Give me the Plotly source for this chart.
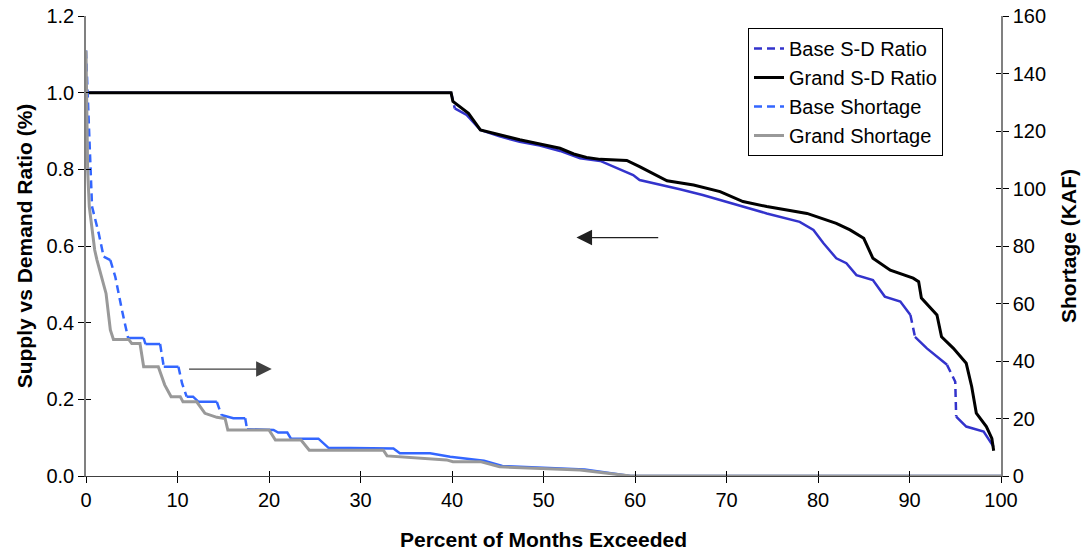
import plotly.graph_objects as go

# ---------------- data ----------------
# Supply vs demand ratio duration curves (left axis)
base_ratio_x = [0, 39.9, 40.3, 41.6, 43.1, 45.2, 47.4, 49.6, 51.8, 54.0, 56.2, 57.6, 58.7,
                59.8, 60.5, 62.0, 64.9, 67.4, 69.3, 74.4, 78.0, 79.5, 80.6, 82.0, 83.1,
                84.2, 86.0, 87.3, 89.0, 90.1, 90.6, 91.9, 94.1, 95.0, 95.1, 96.2, 98.1, 99.2]
base_ratio_y = [1.0, 1.0, 0.959, 0.942, 0.903, 0.886, 0.872, 0.862, 0.848, 0.829, 0.822, 0.808, 0.798,
                0.785, 0.772, 0.764, 0.748, 0.733, 0.72, 0.685, 0.663, 0.642, 0.607, 0.568, 0.555,
                0.524, 0.511, 0.468, 0.455, 0.42, 0.363, 0.333, 0.29, 0.246, 0.155, 0.129, 0.116, 0.076]

grand_ratio_x = [0, 39.9, 40.1, 41.8, 43.1, 45.2, 47.4, 49.6, 51.8, 53.3, 54.7, 56.2, 59.1,
                 60.5, 62.0, 63.5, 66.4, 69.3, 71.8, 74.4, 78.8, 82.0, 83.5, 85.0, 86.0,
                 87.9, 90.4, 91.0, 91.3, 93.0, 93.5, 94.8, 96.2, 96.8, 97.3, 98.4, 99.0, 99.2]
grand_ratio_y = [1.0, 1.0, 0.977, 0.946, 0.903, 0.89, 0.877, 0.866, 0.855, 0.84, 0.831, 0.826, 0.823,
                 0.807, 0.788, 0.77, 0.759, 0.742, 0.716, 0.703, 0.685, 0.659, 0.642, 0.62, 0.568,
                 0.537, 0.516, 0.507, 0.464, 0.42, 0.363, 0.333, 0.294, 0.233, 0.164, 0.129, 0.098, 0.066]

# Shortage duration curves, KAF (right axis)
base_short_x = [0, 0.47, 0.66, 1.39, 1.93, 2.66, 3.2, 3.93, 4.6, 6.3, 6.5, 8.1, 8.5, 10.1, 10.5,
                11.0, 11.7, 12.3, 14.3, 14.8, 16.1, 17.4, 17.6, 20.5, 21.0, 22.0, 22.4, 25.4,
                26.5, 33.6, 34.3, 37.6, 39.8, 43.5, 45.5, 54.5, 59.5, 100]
base_short_y = [148, 106.4, 93.7, 84.4, 76.3, 75.1, 69.3, 57.7, 48.0, 48.0, 45.9, 45.9, 38.0, 38.0, 32.2,
                27.6, 27.6, 25.8, 25.8, 21.2, 20.1, 20.1, 16.3, 16.0, 15.1, 15.1, 13.0, 13.0,
                9.8, 9.6, 7.9, 7.9, 6.7, 5.3, 3.5, 2.3, 0, 0]

grand_short_x = [0, 0.18, 0.36, 0.95, 1.2, 1.67, 2.19, 2.66, 3.0, 4.66, 5.0, 5.9, 6.3, 7.9, 8.6,
                 9.3, 10.3, 10.6, 12.1, 13.0, 14.3, 15.2, 15.5, 20.0, 20.7, 23.5, 24.4, 32.5,
                 32.9, 39.4, 40.1, 43.1, 45.2, 54.0, 59.5, 100]
grand_short_y = [148, 106.4, 93.7, 78.6, 75.1, 69.3, 63.5, 50.8, 47.5, 47.5, 46.1, 46.1, 38.0, 38.0, 31.7,
                 27.6, 27.6, 25.8, 25.8, 21.8, 20.4, 20.0, 16.0, 16.0, 12.5, 12.5, 9.0, 9.0,
                 7.0, 5.6, 5.0, 5.0, 3.2, 2.1, 0, 0]

x_ticks = list(range(0, 101, 10))
ratio_ticks = [0.0, 0.2, 0.4, 0.6, 0.8, 1.0, 1.2]
short_ticks = list(range(0, 161, 20))

# ---------------- layout geometry ----------------
W, H = 1086, 554
ML, MR, MT, MB = 86, 85, 16, 78
PW, PH = W - ML - MR, H - MT - MB
X_RANGE = [0, 100]
RATIO_RANGE = [0, 1.2]
SHORT_RANGE = [0, 160]

FONT = "Arial, Liberation Sans, sans-serif"
FS = 20
FS_TITLE = 21


def split_by_slope(xs, ys, yspan):
    """Split a curve into gentle runs (drawn solid) and steep runs (drawn dashed),
    the way a dashed line over dense monthly points shows dashes only on big jumps."""
    kx = PW / (X_RANGE[1] - X_RANGE[0])
    ky = PH / yspan
    runs = {True: ([], []), False: ([], [])}
    last = {True: None, False: None}
    for i in range(len(xs) - 1):
        x0, y0, x1, y1 = xs[i], ys[i], xs[i + 1], ys[i + 1]
        steep = abs((y1 - y0) * ky) > 2.0 * abs((x1 - x0) * kx)
        rx, ry = runs[steep]
        if last[steep] != i:
            if rx:
                rx.append(None)
                ry.append(None)
            rx.append(x0)
            ry.append(y0)
        rx.append(x1)
        ry.append(y1)
        last[steep] = i + 1
    return runs[False], runs[True]


fig = go.Figure()

DASH = "8px,5px"

# Base S-D ratio
(bs_x, bs_y), (bd_x, bd_y) = split_by_slope(base_ratio_x, base_ratio_y, RATIO_RANGE[1] - RATIO_RANGE[0])
fig.add_trace(go.Scatter(x=bs_x, y=bs_y, mode="lines", connectgaps=False, showlegend=False,
                         legendgroup="a", line=dict(color="#3333CC", width=2.5)))
fig.add_trace(go.Scatter(x=bd_x, y=bd_y, mode="lines", connectgaps=False, name="Base S-D Ratio",
                         legendgroup="a", line=dict(color="#3333CC", width=2.5, dash=DASH)))

# Grand S-D ratio
fig.add_trace(go.Scatter(x=grand_ratio_x, y=grand_ratio_y, mode="lines", name="Grand S-D Ratio",
                         legendgroup="b", line=dict(color="#000000", width=3)))

# Base shortage
(ss_x, ss_y), (sd_x, sd_y) = split_by_slope(base_short_x, base_short_y, SHORT_RANGE[1] - SHORT_RANGE[0])
fig.add_trace(go.Scatter(x=ss_x, y=ss_y, mode="lines", connectgaps=False, showlegend=False,
                         legendgroup="c", yaxis="y2", line=dict(color="#3366FF", width=2.5)))
fig.add_trace(go.Scatter(x=sd_x, y=sd_y, mode="lines", connectgaps=False, name="Base Shortage",
                         legendgroup="c", yaxis="y2", line=dict(color="#3366FF", width=2.5, dash=DASH)))

# Grand shortage
fig.add_trace(go.Scatter(x=grand_short_x, y=grand_short_y, mode="lines", name="Grand Shortage",
                         legendgroup="d", yaxis="y2", line=dict(color="#999999", width=3)))

# helper traces so the inner tick marks (cross ticks) get drawn
fig.add_trace(go.Scatter(x=[None], y=[None], xaxis="x2", yaxis="y3", showlegend=False, hoverinfo="skip"))
fig.add_trace(go.Scatter(x=[None], y=[None], xaxis="x2", yaxis="y4", showlegend=False, hoverinfo="skip"))

tickfont = dict(family=FONT, size=FS, color="#000000")
titlefont = dict(family=FONT, size=FS_TITLE, color="#000000", weight="bold")

fig.update_layout(
    width=W, height=H,
    margin=dict(l=ML, r=MR, t=MT, b=MB, pad=0, autoexpand=False),
    paper_bgcolor="white", plot_bgcolor="white",
    showlegend=True,
    legend=dict(
        x=(748 - ML) / PW, y=(H - MB - 28) / PH, xanchor="left", yanchor="top",
        bgcolor="white", bordercolor="#000000", borderwidth=1,
        font=dict(family=FONT, size=FS, color="#000000"),
        traceorder="grouped", tracegroupgap=0,
    ),
    xaxis=dict(
        range=X_RANGE, tickvals=x_ticks, ticks="outside", ticklen=6, tickcolor="#000000",
        showline=True, linecolor="#404040", linewidth=1, showgrid=False, zeroline=False,
        tickfont=tickfont, automargin=False,
        title=dict(text="Percent of Months Exceeded", font=titlefont, standoff=22),
    ),
    yaxis=dict(
        range=RATIO_RANGE, tickvals=ratio_ticks, tickformat=".1f", ticks="outside", ticklen=6,
        tickcolor="#000000", showline=True, linecolor="#808080", linewidth=1.5,
        showgrid=False, zeroline=False, tickfont=tickfont, automargin=False,
        title=dict(text="Supply vs Demand Ratio (%)", font=titlefont, standoff=8),
    ),
    yaxis2=dict(
        range=SHORT_RANGE, tickvals=short_ticks, overlaying="y", side="right", anchor="x",
        ticks="outside", ticklen=6, tickcolor="#000000", showline=True, linecolor="#808080",
        linewidth=1.5, showgrid=False, zeroline=False, tickfont=tickfont, automargin=False,
        title=dict(text="Shortage (KAF)", font=titlefont, standoff=16),
    ),
    xaxis2=dict(range=X_RANGE, tickvals=x_ticks, overlaying="x", anchor="y3", ticks="inside",
                ticklen=5, tickcolor="#000000", showticklabels=False, showline=False,
                showgrid=False, zeroline=False),
    yaxis3=dict(range=RATIO_RANGE, tickvals=ratio_ticks, overlaying="y", anchor="x2", side="left",
                ticks="inside", ticklen=5, tickcolor="#000000", showticklabels=False,
                showline=False, showgrid=False, zeroline=False),
    yaxis4=dict(range=SHORT_RANGE, tickvals=short_ticks, overlaying="y", anchor="x2", side="right",
                ticks="inside", ticklen=5, tickcolor="#000000", showticklabels=False,
                showline=False, showgrid=False, zeroline=False),
)

# direction arrows pointing at each curve family's axis
fig.add_annotation(x=53.6, y=0.622, ax=62.7, ay=0.622, xref="x", yref="y", axref="x", ayref="y",
                   text="", showarrow=True, arrowhead=2, arrowsize=2.4, arrowwidth=1.3,
                   arrowcolor="#202020")
fig.add_annotation(x=20.3, y=0.279, ax=11.1, ay=0.279, xref="x", yref="y", axref="x", ayref="y",
                   text="", showarrow=True, arrowhead=2, arrowsize=2.4, arrowwidth=1.3,
                   arrowcolor="#404040")

fig.write_html("out.html")
